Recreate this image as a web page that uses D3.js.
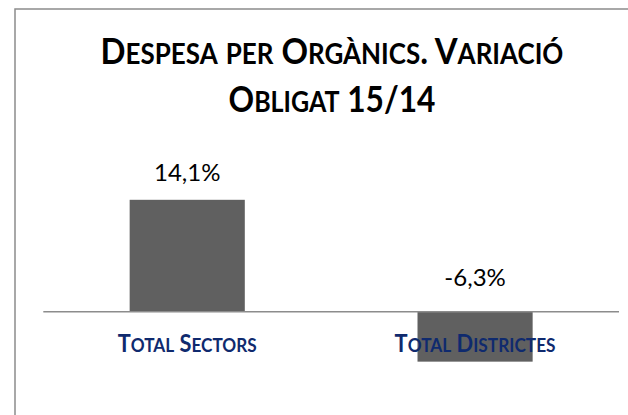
<!DOCTYPE html>
<html>
<head>
<meta charset="utf-8">
<script src="https://cdn.jsdelivr.net/npm/d3@7"></script>
<style>
  body { margin: 0; background: #ffffff; }
  svg { display: block; }
</style>
</head>
<body>
<div id="chart"></div>
<script>

//data
var title_lines = ["Despesa per Orgànics. Variació", "Obligat 15/14"];
var categories = ["Total Sectors", "Total Districtes"];
var values = [14.1, -6.3];
var value_labels = ["14,1%", "-6,3%"];

var width = 628,
    height = 415,
    font = "Lato, 'Open Sans', sans-serif";

var svg = d3.select("#chart").append("svg")
    .attr("width", width)
    .attr("height", height);

//chart frame - runs off the right and bottom of the picture
svg.append("rect")
    .attr("x", 15)
    .attr("y", 9)
    .attr("width", 634)
    .attr("height", 450)
    .attr("fill", "#ffffff")
    .attr("stroke", "#8c8c8c")
    .attr("stroke-width", 1.5);

//small caps by hand - lower case letters become smaller capitals
function small_caps(sel, txt, size) {
    var runs = [];
    txt.split("").forEach(function(ch) {
        var small = ch !== ch.toUpperCase();
        var last = runs[runs.length - 1];
        if (last && last.small === small) { last.t += ch.toUpperCase(); }
        else { runs.push({small: small, t: ch.toUpperCase()}); }
    });
    runs.forEach(function(r) {
        sel.append("tspan")
            .attr("font-size", r.small ? size * 0.79 : size)
            .text(r.t);
    });
}

//squeeze a text to the width
function fit_width(sel, cx, target) {
    var w = sel.node().getComputedTextLength();
    sel.attr("transform", "translate(" + cx + ",0) scale(" + (target / w) + ",1) translate(" + (-cx) + ",0)");
}

//title
var title_widths = [463, 207];
title_lines.forEach(function(line, i) {
    var t = svg.append("text")
        .attr("x", 332)
        .attr("y", 64 + i * 48)
        .attr("text-anchor", "middle")
        .attr("font-family", font)
        .attr("font-weight", "bold")
        .attr("font-size", 36)
        .attr("fill", "#000000");
    small_caps(t, line, 36);
    fit_width(t, 332, title_widths[i]);
});

//scales
var x_scale = d3.scaleBand()
    .domain(categories)
    .range([43.3, 619])
    .paddingInner(0.6)
    .paddingOuter(0.3);

var y_scale = d3.scaleLinear()
    .domain([-10, 20])
    .range([391, 153]);

//bars
svg.append("g").selectAll("rect")
    .data(values)
    .enter().append("rect")
    .attr("x", (d, i) => x_scale(categories[i]))
    .attr("y", d => y_scale(Math.max(0, d)))
    .attr("width", x_scale.bandwidth())
    .attr("height", d => Math.abs(y_scale(d) - y_scale(0)))
    .attr("fill", "#606060");

//zero line
svg.append("line")
    .attr("x1", x_scale.range()[0])
    .attr("x2", x_scale.range()[1])
    .attr("y1", y_scale(0))
    .attr("y2", y_scale(0))
    .attr("stroke", "#8c8c8c")
    .attr("stroke-width", 1.5);

//value labels - negative label sits above the zero line
svg.append("g").selectAll("text")
    .data(values)
    .enter().append("text")
    .attr("x", (d, i) => x_scale(categories[i]) + x_scale.bandwidth() / 2)
    .attr("y", d => d >= 0 ? y_scale(d) - 18.5 : y_scale(0) - 25.7)
    .attr("text-anchor", "middle")
    .attr("font-family", font)
    .attr("font-size", 24)
    .attr("fill", "#000000")
    .text((d, i) => value_labels[i]);

//category labels
var cat_widths = [139, 161];
categories.forEach(function(c, i) {
    var cx = x_scale(c) + x_scale.bandwidth() / 2;
    var t = svg.append("text")
        .attr("x", cx)
        .attr("y", 351.7)
        .attr("text-anchor", "middle")
        .attr("font-family", font)
        .attr("font-weight", "bold")
        .attr("font-size", 24)
        .attr("fill", "#0f2a6e");
    small_caps(t, c, 24);
    fit_width(t, cx, cat_widths[i]);
});

</script>
</body>
</html>
